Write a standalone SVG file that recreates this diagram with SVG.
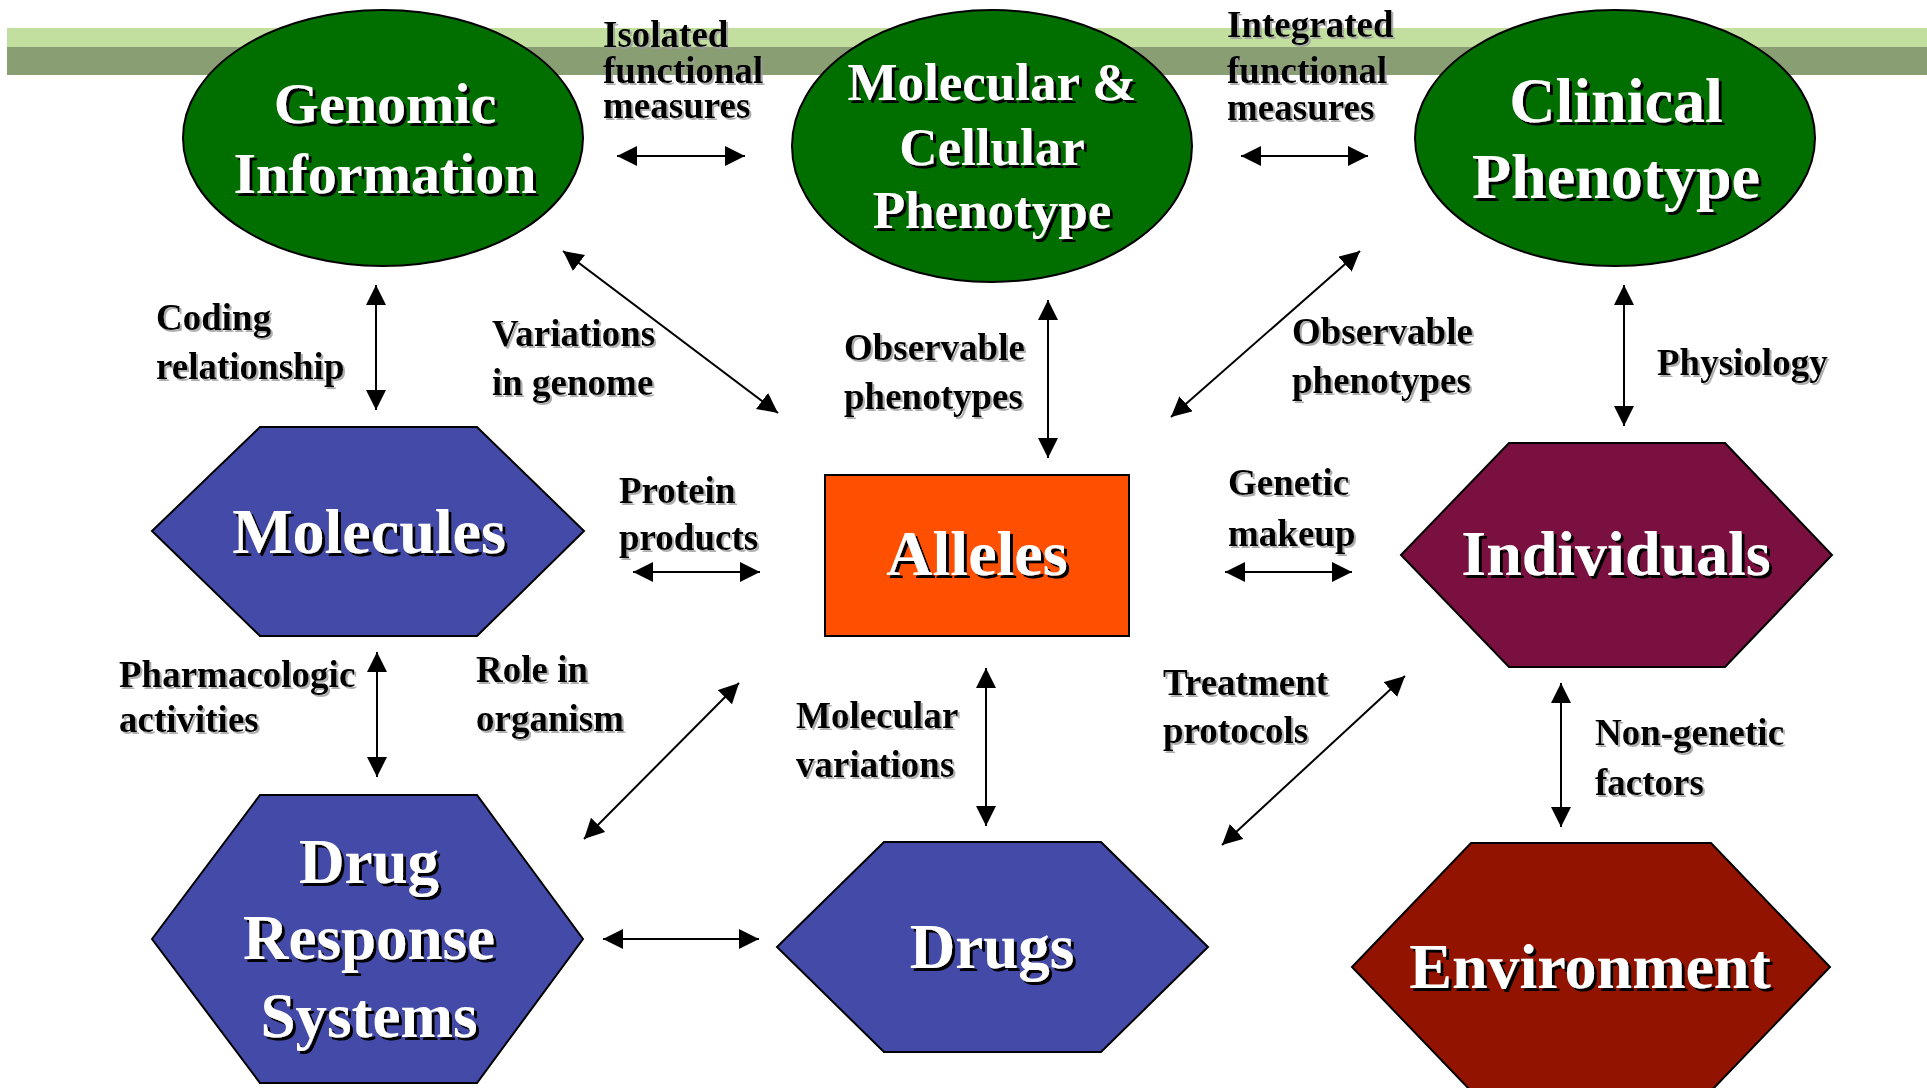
<svg xmlns="http://www.w3.org/2000/svg" width="1927" height="1088" viewBox="0 0 1927 1088">
<style>
.big{font-family:"Liberation Serif","Times New Roman",serif;font-weight:bold;fill:#fff;text-anchor:middle;filter:url(#bigsh)}
.lbl{font-family:"Liberation Serif","Times New Roman",serif;font-weight:bold;font-size:37px;fill:#000;filter:url(#lblsh)}
.node{stroke:#000;stroke-width:2}
.ell{fill:#006f00}
.blue{fill:#444aa8}
.conn line{stroke:#000;stroke-width:2;marker-start:url(#ah);marker-end:url(#ah)}
</style>
<defs>
<marker id="ah" markerUnits="userSpaceOnUse" markerWidth="22" markerHeight="22" refX="20" refY="10" orient="auto-start-reverse" viewBox="0 0 22 22">
<path d="M0,0 L20,10 L0,20 z" fill="#000"/>
</marker>
<filter id="bigsh" x="-10%" y="-10%" width="120%" height="130%">
<feDropShadow dx="3" dy="3" stdDeviation="0.3" flood-color="#000" flood-opacity="1"/>
</filter>
<filter id="lblsh" x="-10%" y="-10%" width="120%" height="130%">
<feDropShadow dx="2" dy="2" stdDeviation="0.5" flood-color="#9a9a9a" flood-opacity="0.8"/>
</filter>
</defs>
<rect width="1927" height="1088" fill="#fff"/>
<g id="band">
<rect x="7" y="28" width="1920" height="19" fill="#c2dfa0"/>
<rect x="7" y="47" width="1920" height="28" fill="#899e72"/>
</g>
<g id="genomic">
<ellipse class="node ell" cx="383" cy="138" rx="200" ry="128"/>
<text class="big" font-size="58" x="385" y="123">Genomic</text>
<text class="big" font-size="58" x="385" y="193">Information</text>
</g>
<g id="molecular-cellular">
<ellipse class="node ell" cx="992" cy="146" rx="200" ry="136"/>
<text class="big" font-size="53" x="992" y="100">Molecular &amp;</text>
<text class="big" font-size="53" x="992" y="165">Cellular</text>
<text class="big" font-size="53" x="992" y="228">Phenotype</text>
</g>
<g id="clinical">
<ellipse class="node ell" cx="1615" cy="138" rx="200" ry="128"/>
<text class="big" font-size="64" x="1616" y="122">Clinical</text>
<text class="big" font-size="64" x="1616" y="198">Phenotype</text>
</g>
<g id="molecules">
<polygon class="node blue" points="152,531 260,427 477,427 584,531 477,636 260,636"/>
<text class="big" font-size="64" x="369" y="553">Molecules</text>
</g>
<g id="alleles">
<rect class="node" x="825" y="475" width="304" height="161" fill="#ff4f00"/>
<text class="big" font-size="64" x="977" y="575">Alleles</text>
</g>
<g id="individuals">
<polygon class="node" fill="#7a1040" points="1401,555 1509,443 1725,443 1832,555 1725,667 1509,667"/>
<text class="big" font-size="64" x="1616" y="575">Individuals</text>
</g>
<g id="drug-response">
<polygon class="node blue" points="152,939 260,795 477,795 583,939 477,1083 260,1083"/>
<text class="big" font-size="63" x="369" y="883">Drug</text>
<text class="big" font-size="63" x="369" y="959">Response</text>
<text class="big" font-size="63" x="369" y="1037">Systems</text>
</g>
<g id="drugs">
<polygon class="node blue" points="777,947 884,842 1101,842 1208,947 1101,1052 884,1052"/>
<text class="big" font-size="63" x="992" y="968">Drugs</text>
</g>
<g id="environment">
<polygon class="node" fill="#921400" points="1352,967 1471,843 1711,843 1830,967 1711,1091 1471,1091"/>
<text class="big" font-size="64" x="1590" y="988">Environment</text>
</g>
<g id="connectors" class="conn">
<line x1="617" y1="156" x2="745" y2="156"/>
<line x1="1241" y1="156" x2="1368" y2="156"/>
<line x1="376" y1="285" x2="376" y2="410"/>
<line x1="563" y1="251" x2="778" y2="413"/>
<line x1="1048" y1="300" x2="1048" y2="458"/>
<line x1="1360" y1="251" x2="1171" y2="417"/>
<line x1="1624" y1="285" x2="1624" y2="426"/>
<line x1="633" y1="572" x2="760" y2="572"/>
<line x1="1225" y1="572" x2="1352" y2="572"/>
<line x1="377" y1="652" x2="377" y2="777"/>
<line x1="739" y1="683" x2="584" y2="839"/>
<line x1="986" y1="668" x2="986" y2="826"/>
<line x1="1405" y1="676" x2="1222" y2="845"/>
<line x1="1561" y1="683" x2="1561" y2="827"/>
<line x1="603" y1="939" x2="759" y2="939"/>
</g>
<g id="labels">
<text class="lbl" x="603" y="47">Isolated</text>
<text class="lbl" x="603" y="83">functional</text>
<text class="lbl" x="603" y="118">measures</text>
<text class="lbl" x="1227" y="37">Integrated</text>
<text class="lbl" x="1227" y="83">functional</text>
<text class="lbl" x="1227" y="120">measures</text>
<text class="lbl" x="156" y="330">Coding</text>
<text class="lbl" x="156" y="379">relationship</text>
<text class="lbl" x="492" y="346">Variations</text>
<text class="lbl" x="492" y="395">in genome</text>
<text class="lbl" x="844" y="360">Observable</text>
<text class="lbl" x="844" y="409">phenotypes</text>
<text class="lbl" x="1292" y="344">Observable</text>
<text class="lbl" x="1292" y="393">phenotypes</text>
<text class="lbl" x="1657" y="375">Physiology</text>
<text class="lbl" x="619" y="503">Protein</text>
<text class="lbl" x="619" y="550">products</text>
<text class="lbl" x="1228" y="495">Genetic</text>
<text class="lbl" x="1228" y="546">makeup</text>
<text class="lbl" x="119" y="687">Pharmacologic</text>
<text class="lbl" x="119" y="732">activities</text>
<text class="lbl" x="476" y="682">Role in</text>
<text class="lbl" x="476" y="731">organism</text>
<text class="lbl" x="796" y="728">Molecular</text>
<text class="lbl" x="796" y="777">variations</text>
<text class="lbl" x="1163" y="695">Treatment</text>
<text class="lbl" x="1163" y="743">protocols</text>
<text class="lbl" x="1595" y="745">Non-genetic</text>
<text class="lbl" x="1595" y="795">factors</text>
</g>
</svg>
